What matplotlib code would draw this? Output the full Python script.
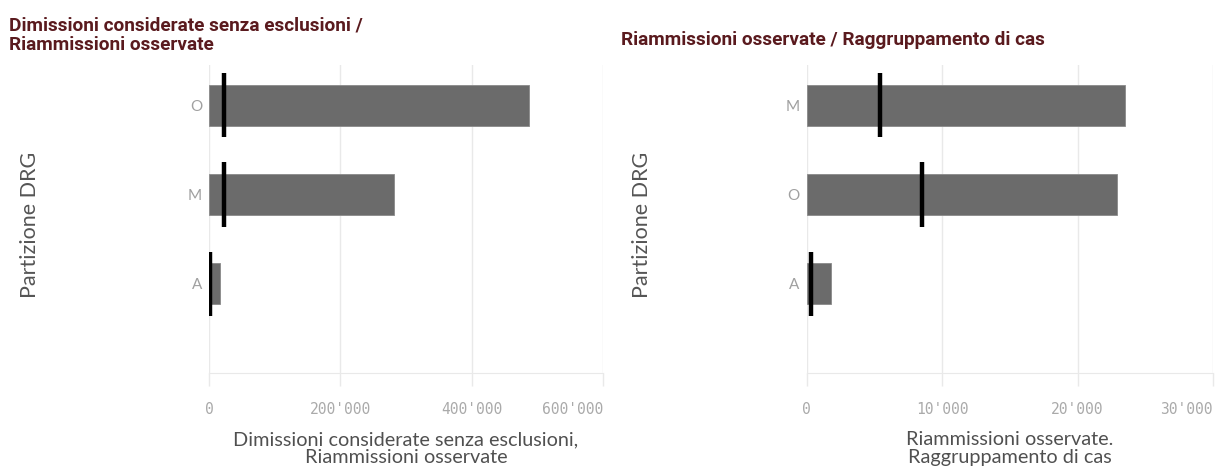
import matplotlib
matplotlib.use("Agg")
import matplotlib.pyplot as plt
from matplotlib import font_manager as fm

# ---- data ----
left_cats = ["O", "M", "A"]
left_bars = [487000, 281000, 17000]
left_marks = [23000, 23500, 1800]
left_ticks = [0, 200000, 400000, 600000]
left_ticklabels = ["0", "200'000", "400'000", "600'000"]

right_cats = ["M", "O", "A"]
right_bars = [23500, 22900, 1780]
right_marks = [5400, 8500, 350]
right_ticks = [0, 10000, 20000, 30000]
right_ticklabels = ["0", "10'000", "20'000", "30'000"]

left_title = "Dimissioni considerate senza esclusioni /\nRiammissioni osservate"
right_title = "Riammissioni osservate / Raggruppamento di cas"
left_xlabel = "Dimissioni considerate senza esclusioni,\nRiammissioni osservate"
right_xlabel = "Riammissioni osservate.\nRaggruppamento di cas"
ylabel = "Partizione DRG"

# ---- fonts ----
names = {f.name for f in fm.fontManager.ttflist}
title_font = "Liberation Sans Narrow" if "Liberation Sans Narrow" in names else "Roboto"

BAR = "#6b6b6b"
TITLE_C = "#5a1a1e"
GRID = "#e9e9e9"

fig = plt.figure(figsize=(12.15, 4.75), dpi=100)

W, H = 1215, 475
def rect(x0, x1, y0, y1):
    return [x0 / W, 1 - y1 / H, (x1 - x0) / W, (y1 - y0) / H]

axL = fig.add_axes(rect(209, 603, 65, 373))
axR = fig.add_axes(rect(806.7, 1213, 65, 373))

def draw(ax, cats, bars, marks, ticks, ticklabels, xmax, xlabel):
    n = len(cats)
    pos = list(range(n - 1, -1, -1))
    ax.barh(pos, bars, height=0.46, color=BAR, edgecolor="#8a8a8a", linewidth=0.6, zorder=2)
    ax.vlines(marks, [p - 0.36 for p in pos], [p + 0.36 for p in pos],
              color="black", linewidth=3.2, zorder=3)
    ax.set_xlim(0, xmax)
    ax.set_ylim(-1.0, n - 1 + 0.45)
    ax.set_yticks(pos)
    ax.set_yticklabels(cats, family="Lato", fontsize=11, color="#a0a0a0")
    ax.tick_params(axis="y", length=0, pad=5)
    ax.set_xticks(ticks)
    lbls = ax.set_xticklabels(ticklabels, family="DejaVu Sans Mono", fontsize=10.5, color="#aaaaaa")
    lbls[-1].set_horizontalalignment("right")
    ax.tick_params(axis="x", length=9, width=1, color=GRID, pad=12)
    ax.grid(axis="x", color=GRID, linewidth=1, zorder=0)
    ax.set_axisbelow(True)
    for s in ["top", "left", "right"]:
        ax.spines[s].set_visible(False)
    ax.spines["bottom"].set_color(GRID)
    ax.set_xlabel(xlabel, family="Lato", fontsize=14.3, color="#505050", labelpad=10, linespacing=1.1)
    ax.set_ylabel(ylabel, family="Lato", fontsize=15.5, color="#555555")

draw(axL, left_cats, left_bars, left_marks, left_ticks, left_ticklabels, 600000, left_xlabel)
draw(axR, right_cats, right_bars, right_marks, right_ticks, right_ticklabels, 30000, right_xlabel)

axL.yaxis.set_label_coords((40 - 209) / (603 - 209), 0.48)
axR.yaxis.set_label_coords((652 - 806.7) / (1213 - 806.7), 0.48)

fig.text(9 / W, 1 - 50 / H, left_title, family=title_font, fontweight="bold",
         fontsize=13.7, color=TITLE_C, ha="left", va="baseline", linespacing=1.1)
fig.text(621 / W, 1 - 45 / H, right_title, family=title_font, fontweight="bold",
         fontsize=13.7, color=TITLE_C, ha="left", va="baseline")

fig.savefig("out.png", dpi=100)
